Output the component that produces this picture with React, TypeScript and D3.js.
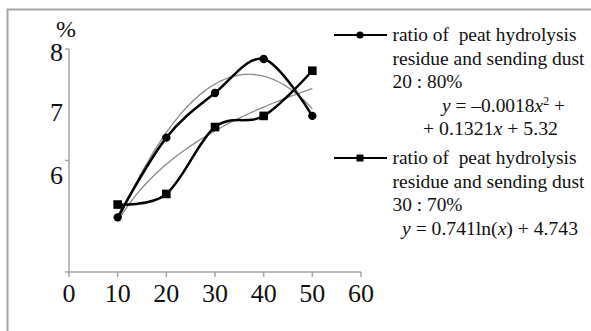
import React from "react";
import * as d3 from "d3";

const xValues = [10, 20, 30, 40, 50];
const series2080 = [4.98, 6.41, 7.21, 7.82, 6.8];
const series3070 = [5.21, 5.4, 6.6, 6.8, 7.61];
const xTicks = [0, 10, 20, 30, 40, 50, 60];
const yTicks = [4, 6, 8];
const yTickLabels = ["8", "7", "6"];
const yLabelValues = [7.95, 6.87, 5.74];

const W = 591;
const H = 331;
const FONT = "'Liberation Serif', 'Times New Roman', serif";

function fitPoly2(xs: number[], ys: number[]) {
  const n = xs.length;
  let s = [0, 0, 0, 0, 0];
  let t = [0, 0, 0];
  for (let i = 0; i < n; i++) {
    for (let k = 0; k < 5; k++) s[k] += Math.pow(xs[i], k);
    for (let k = 0; k < 3; k++) t[k] += ys[i] * Math.pow(xs[i], k);
  }
  const A = [
    [s[0], s[1], s[2], t[0]],
    [s[1], s[2], s[3], t[1]],
    [s[2], s[3], s[4], t[2]],
  ];
  for (let i = 0; i < 3; i++) {
    let p = i;
    for (let r = i + 1; r < 3; r++) if (Math.abs(A[r][i]) > Math.abs(A[p][i])) p = r;
    [A[i], A[p]] = [A[p], A[i]];
    for (let r = 0; r < 3; r++) {
      if (r === i) continue;
      const f = A[r][i] / A[i][i];
      for (let c = i; c < 4; c++) A[r][c] -= f * A[i][c];
    }
  }
  const c0 = A[0][3] / A[0][0];
  const c1 = A[1][3] / A[1][1];
  const c2 = A[2][3] / A[2][2];
  return (x: number) => c0 + c1 * x + c2 * x * x;
}

function fitLog(xs: number[], ys: number[]) {
  const L = xs.map((x) => Math.log(x));
  const mL = d3.mean(L) as number;
  const mY = d3.mean(ys) as number;
  let num = 0;
  let den = 0;
  for (let i = 0; i < xs.length; i++) {
    num += (L[i] - mL) * (ys[i] - mY);
    den += (L[i] - mL) ** 2;
  }
  const b = num / den;
  const a = mY - b * mL;
  return (x: number) => a + b * Math.log(x);
}

export default function App() {
  const x = d3.scaleLinear().domain([0, 60]).range([69, 361]);
  const y = d3.scaleLinear().domain([4, 8]).range([272, 49]);
  const yLab = d3.scaleLinear().domain([4, 8]).range([272, 49]);

  const smooth = d3
    .line<number>()
    .x((_, i) => x(xValues[i]))
    .y((d) => y(d))
    .curve(d3.curveCardinal.tension(0));

  const poly = fitPoly2(xValues, series2080);
  const logf = fitLog(xValues, series3070);
  const samples = d3.range(10, 50.01, 0.5);
  const trendLine = (f: (v: number) => number) =>
    d3
      .line<number>()
      .x((d) => x(d))
      .y((d) => y(f(d)))(samples) as string;

  const axisColor = "#a6a6a6";
  const trendColor = "#8a8a8a";
  const legendText = { fontFamily: FONT, fontSize: 19.5, fill: "#111" } as const;

  return (
    <svg
      width={W}
      height={H}
      style={{ position: "absolute", left: 0, top: 0, background: "#fff" }}
    >
      <rect x={7.5} y={9.5} width={600} height={340} fill="#fff" stroke="#a6a6a6" strokeWidth={2} />

      {/* axes */}
      <line x1={x(0)} x2={x(0)} y1={y(8)} y2={y(4)} stroke={axisColor} strokeWidth={1.5} />
      <line x1={x(0) - 0.75} x2={x(60)} y1={y(4)} y2={y(4)} stroke={axisColor} strokeWidth={1.5} />
      {yTicks.map((t) => (
        <line key={"yt" + t} x1={x(0) - 4} x2={x(0)} y1={y(t)} y2={y(t)} stroke={axisColor} strokeWidth={1.5} />
      ))}
      {xTicks.map((t) => (
        <line key={"xt" + t} x1={x(t)} x2={x(t)} y1={y(4)} y2={y(4) + 5} stroke={axisColor} strokeWidth={1.5} />
      ))}
      {xTicks.map((t) => (
        <text key={"xl" + t} x={x(t)} y={302} textAnchor="middle" fontFamily={FONT} fontSize={26} fill="#111">
          {t}
        </text>
      ))}
      {yTickLabels.map((lab, i) => (
        <text
          key={"yl" + lab}
          x={63}
          y={yLab(yLabelValues[i]) + 9}
          textAnchor="end"
          fontFamily={FONT}
          fontSize={26}
          fill="#111"
        >
          {lab}
        </text>
      ))}
      <text x={56} y={37} fontFamily={FONT} fontSize={24} fill="#111">
        %
      </text>

      {/* trendlines */}
      <path d={trendLine(poly)} fill="none" stroke={trendColor} strokeWidth={1.3} />
      <path d={trendLine(logf)} fill="none" stroke={trendColor} strokeWidth={1.3} />

      {/* series */}
      <path d={smooth(series2080) as string} fill="none" stroke="#000" strokeWidth={2.5} />
      <path d={smooth(series3070) as string} fill="none" stroke="#000" strokeWidth={2.5} />
      {series2080.map((v, i) => (
        <circle key={"c" + i} cx={x(xValues[i])} cy={y(v)} r={4.2} fill="#000" />
      ))}
      {series3070.map((v, i) => (
        <rect key={"s" + i} x={x(xValues[i]) - 4.3} y={y(v) - 4.3} width={8.6} height={8.6} fill="#000" />
      ))}

      {/* legend */}
      <line x1={334} x2={387} y1={35} y2={35} stroke="#000" strokeWidth={1.8} />
      <circle cx={360} cy={35} r={3.6} fill="#000" />
      <text x={392.5} y={41} {...legendText} textLength={184} lengthAdjust="spacingAndGlyphs">
        {"ratio of\u00a0 peat hydrolysis"}
      </text>
      <text x={392.5} y={64.5} {...legendText} textLength={192} lengthAdjust="spacingAndGlyphs">
        residue and sending dust
      </text>
      <text x={392.5} y={88} {...legendText} textLength={70} lengthAdjust="spacingAndGlyphs">
        20 : 80%
      </text>
      <text x={442} y={111.5} {...legendText} textLength={123} lengthAdjust="spacingAndGlyphs">
        <tspan fontStyle="italic">y</tspan> = –0.0018<tspan fontStyle="italic">x</tspan>
        <tspan fontSize={12} dy={-7}>2</tspan>
        <tspan dy={7}> +</tspan>
      </text>
      <text x={423} y={135} {...legendText} textLength={135} lengthAdjust="spacingAndGlyphs">
        + 0.1321<tspan fontStyle="italic">x</tspan> + 5.32
      </text>

      <line x1={334} x2={387} y1={158} y2={158} stroke="#000" strokeWidth={1.8} />
      <rect x={356.5} y={154.5} width={7} height={7} fill="#000" />
      <text x={392.5} y={164} {...legendText} textLength={184} lengthAdjust="spacingAndGlyphs">
        {"ratio of\u00a0 peat hydrolysis"}
      </text>
      <text x={392.5} y={187.5} {...legendText} textLength={192} lengthAdjust="spacingAndGlyphs">
        residue and sending dust
      </text>
      <text x={392.5} y={211} {...legendText} textLength={70} lengthAdjust="spacingAndGlyphs">
        30 : 70%
      </text>
      <text x={402} y={235} {...legendText} textLength={176} lengthAdjust="spacingAndGlyphs">
        <tspan fontStyle="italic">y</tspan> = 0.741ln(<tspan fontStyle="italic">x</tspan>) + 4.743
      </text>
    </svg>
  );
}
